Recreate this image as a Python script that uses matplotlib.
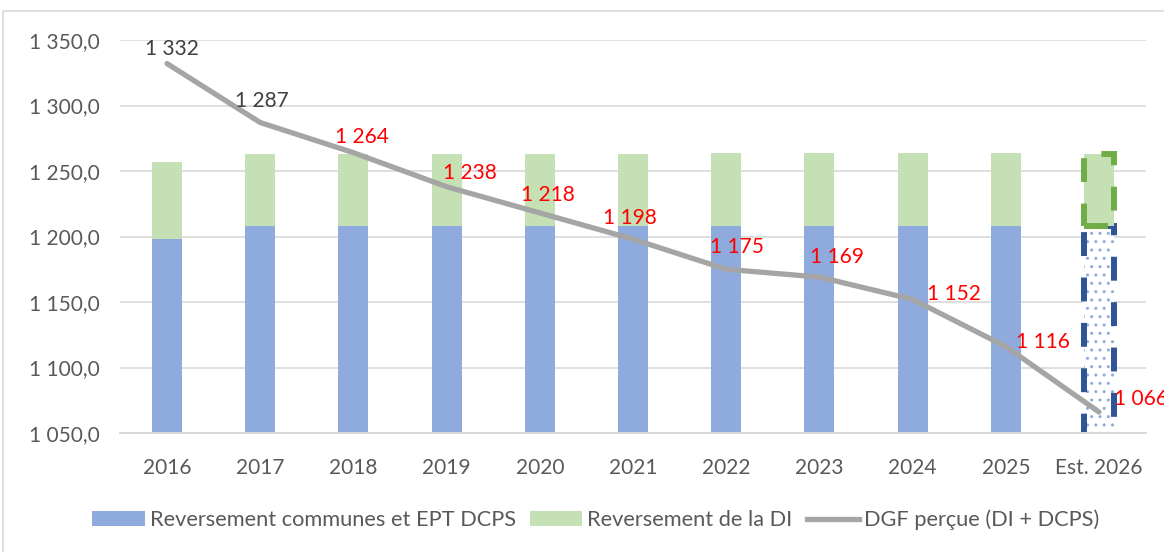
import matplotlib
matplotlib.use("Agg")
import matplotlib.pyplot as plt
from matplotlib.patches import Rectangle
from matplotlib.lines import Line2D
from matplotlib.patches import Patch

# ---- data ----
categories = ['2016', '2017', '2018', '2019', '2020', '2021', '2022', '2023', '2024', '2025', 'Est. 2026']
reversement_dcps = [1198, 1208, 1208, 1208, 1208, 1208, 1208, 1208, 1208, 1208, 1208]
reversement_di = [59, 55, 55, 55, 55, 55, 56, 56, 56, 56, 55]
dgf_percue = [1332, 1287, 1264, 1238, 1218, 1198, 1175, 1169, 1152, 1116, 1066]
y_ticks = [1050, 1100, 1150, 1200, 1250, 1300, 1350]

# ---- style ----
plt.rcParams['font.family'] = ['Lato', 'DejaVu Sans']
BLUE = '#8FAADC'
GREEN = '#C5E0B4'
DBLUE = '#2F5597'
DGREEN = '#70AD47'
GRAY_LINE = '#A5A5A5'
GRID = '#D9D9D9'
TXT = '#595959'
FS = 15
LFS = 15.7
# label offsets in pixels (dx, dy) relative to each point (style only)
label_offsets_px = [(5, 15), (2, 22), (9, 16), (23, 14), (8, 18), (-3, 21),
                    (11, 22), (18, 20), (41, 5), (37, 5), (42, 13)]
label_colors = ['#404040', '#404040'] + ['#FF0000'] * 9

W, H = 1164, 552
fig = plt.figure(figsize=(W / 100, H / 100), dpi=100)
ax = fig.add_axes([120.4 / W, (H - 433) / H, 1025.2 / W, 393 / H])

# chart frame
fig.patches.append(Rectangle((3 / W, -0.1), 1.2, (H - 11) / H + 0.1, transform=fig.transFigure,
                             fill=False, edgecolor=GRID, linewidth=1.2, zorder=0))

x = list(range(len(categories)))
n = len(categories)
bw = 0.32
last = n - 1

# normal bars
ax.bar(x[:last], reversement_dcps[:last], width=bw, color=BLUE, zorder=2)
ax.bar(x[:last], reversement_di[:last], width=bw, bottom=reversement_dcps[:last], color=GREEN, zorder=2)

# estimated bar: dotted blue + dashed outlines
ax.bar([x[last]], [reversement_dcps[last]], width=bw, color='white', hatch='..',
       edgecolor=BLUE, linewidth=0, zorder=2)
ax.bar([x[last]], [reversement_dcps[last]], width=bw, fill=False, edgecolor=DBLUE,
       linewidth=4.3, linestyle=(0, (4, 3.6)), zorder=2.5)
ax.bar([x[last]], [reversement_di[last]], width=bw, bottom=[reversement_dcps[last]],
       color=GREEN, edgecolor=DGREEN, linewidth=4.3, linestyle=(0, (4, 3.6)), zorder=2.5)

# line
ax.plot(x, dgf_percue, color=GRAY_LINE, linewidth=3.8, solid_capstyle='round',
        solid_joinstyle='round', zorder=3)


def fmt_int(v):
    return f"{v:,.0f}".replace(',', ' ')


for i, v in enumerate(dgf_percue):
    dx, dy = label_offsets_px[i]
    ax.annotate(fmt_int(v), (x[i], v), xytext=(dx * 0.72, dy * 0.72), textcoords='offset points',
                ha='center', va='center', color=label_colors[i], fontsize=FS, zorder=4,
                annotation_clip=False)

ax.set_xlim(-0.5, n - 0.5)
ax.set_ylim(1050, 1350)
ax.set_yticks(y_ticks)
ax.set_yticklabels([f"{v:,.1f}".replace(',', ' ').replace('.', ',') for v in y_ticks])
ax.set_xticks(x)
ax.set_xticklabels(categories)
ax.tick_params(axis='both', length=0, labelsize=FS, labelcolor=TXT)
ax.tick_params(axis='y', pad=15)
ax.tick_params(axis='x', pad=18)
ax.yaxis.grid(True, color=GRID, linewidth=1.2)
ax.set_axisbelow(True)
for s in ['top', 'right', 'left']:
    ax.spines[s].set_visible(False)
ax.spines['bottom'].set_color(GRID)
ax.spines['bottom'].set_linewidth(1.4)

handles = [Patch(facecolor=BLUE, edgecolor='none'), Patch(facecolor=GREEN, edgecolor='none'),
           Line2D([0], [0], color=GRAY_LINE, linewidth=3.8)]
labels = ['Reversement communes et EPT DCPS', 'Reversement de la DI', 'DGF perçue (DI + DCPS)']
leg = fig.legend(handles, labels, loc='center', bbox_to_anchor=(596 / W, (H - 520) / H), ncol=3,
                 frameon=False, fontsize=LFS, handlelength=2.4, handletextpad=0.23,
                 columnspacing=0.65, labelcolor=TXT)

fig.savefig('out.png', dpi=100)
